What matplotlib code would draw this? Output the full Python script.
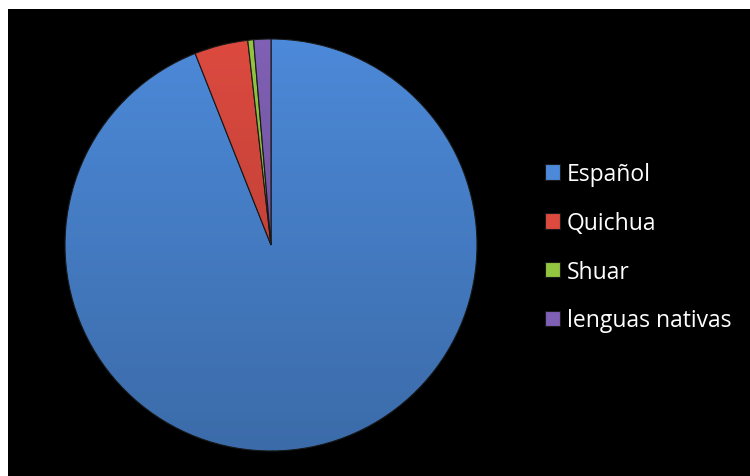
import numpy as np
import matplotlib.pyplot as plt
from matplotlib.patches import Rectangle, Circle

# Lenguas habladas (porcentaje)
lenguas = ['Español', 'Quichua', 'Shuar', 'lenguas nativas']
porcentajes = [94.0, 4.2, 0.45, 1.35]
colores = ['#4c89d8', '#dc4a3f', '#92c641', '#7f60b4']

plt.rcParams['font.family'] = ['Open Sans', 'DejaVu Sans']

fig = plt.figure(figsize=(7.5, 4.77), dpi=100)
fig.patch.set_facecolor('white')
# fondo negro del grafico
fig.patches.append(Rectangle((8 / 750, 0), 742 / 750, 467 / 477,
                             transform=fig.transFigure, facecolor='black',
                             edgecolor='none', zorder=-10))

ax = fig.add_axes([65 / 750, 25 / 477, 412 / 750, 412 / 477])
ax.set_facecolor('none')
wedges, _ = ax.pie(porcentajes, colors=colores, startangle=90, counterclock=False,
                   wedgeprops=dict(edgecolor='#1a1a1a', linewidth=0.8))

# sombreado: mas oscuro hacia abajo, como el degradado de Excel
sombra = np.zeros((200, 2, 4))
sombra[..., 3] = np.linspace(0.0, 0.22, 200)[:, None]
img = ax.imshow(sombra, extent=(-1, 1, -1, 1), origin='upper', aspect='auto',
                interpolation='bilinear', zorder=3)
img.set_clip_path(Circle((0, 0), 1, transform=ax.transData))

ax.set_xlim(-1.0, 1.0)
ax.set_ylim(-1.0, 1.0)
ax.set_aspect('equal')
ax.axis('off')

leg = fig.legend(wedges, lenguas, loc='upper left',
                 bbox_to_anchor=(536 / 750, 1 - 154 / 477),
                 frameon=False, fontsize=16.5, labelcolor='white',
                 handlelength=0.65, handleheight=0.65, handletextpad=0.3,
                 labelspacing=1.08, borderaxespad=0)

fig.savefig('out.png', dpi=100)
